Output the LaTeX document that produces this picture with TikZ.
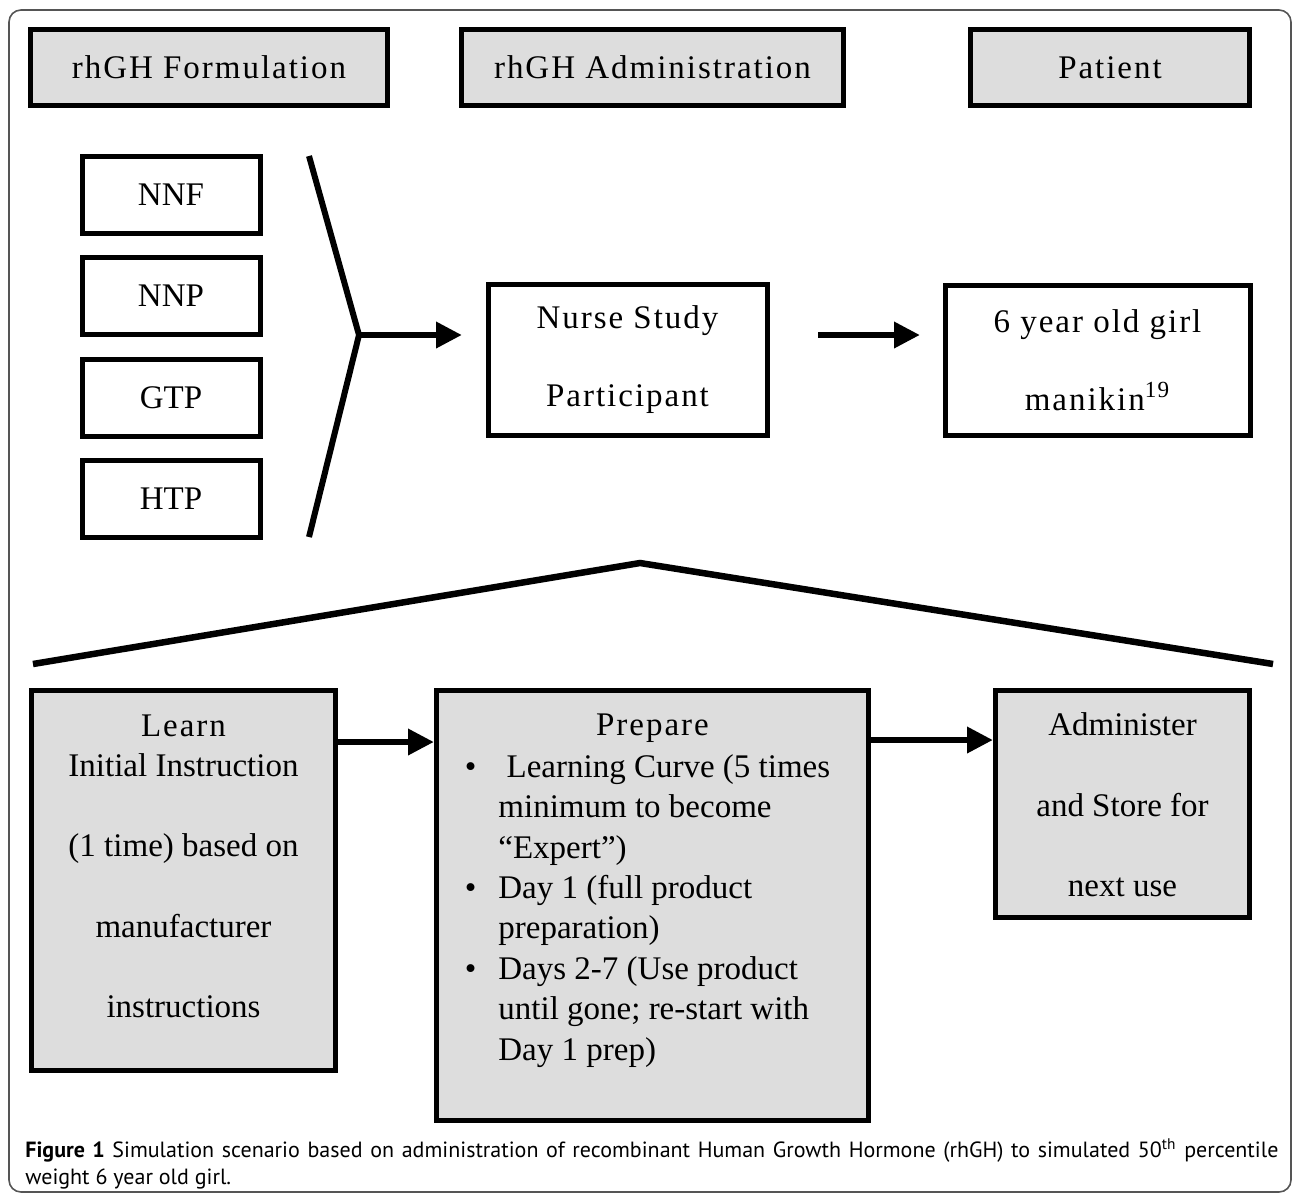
\documentclass[tikz,border=0pt]{standalone}
\usepackage{fontspec}
\setmainfont{Liberation Serif}
\newfontfamily\wide[LetterSpace=6]{Liberation Serif}
\newfontfamily\capfont{PT Sans}
\usetikzlibrary{arrows.meta,positioning}
\definecolor{boxgray}{HTML}{DDDDDD}
\definecolor{framegray}{HTML}{555555}
\begin{document}
\begin{tikzpicture}[x=.5pt, y=-.5pt, line join=miter,
    font=\fontsize{16.5}{20.2}\selectfont,
    head/.style={draw, line width=2.5pt, fill=boxgray, minimum height=38pt, font=\wide\fontsize{16.5}{20.2}\selectfont},
    kind/.style={draw, line width=2.5pt, minimum width=89pt, minimum height=38.5pt},
    plain/.style={draw, line width=2.5pt, align=center, font=\wide\fontsize{16.5}{20.2}\selectfont},
    stage/.style={draw, line width=2.5pt, fill=boxgray},
    txt/.style={inner sep=0pt, align=center},
    fork/.style={line width=3pt},
    link/.style={line width=3.25pt, -{Triangle[length=13pt,width=12.5pt]}}]
    \useasboundingbox (0,0) rectangle (1293,1194);
    \draw[framegray, line width=.8pt, rounded corners=6pt] (9,10) rectangle (1291,1192);
    % column heads
    \node[head, minimum width=178.5pt] (form) at (209,67.5) {rhGH Formulation};
    \node[head, minimum width=191pt] (admin) at (652.5,67.5) {rhGH Administration};
    \node[head, minimum width=139.5pt] (pat) at (1110,67.5) {Patient};
    % formulations
    \node[kind] (nnf) at (171,194.5) {NNF};
    \node[kind] (nnp) at (171,296) {NNP};
    \node[kind] (gtp) at (171,398) {GTP};
    \node[kind] (htp) at (171,499) {HTP};
    \coordinate (vtx) at (359,335);
    \draw[fork] (309,156) -- (vtx) -- (309,537);
    \node[plain, minimum width=139.5pt, minimum height=75.5pt] (nurse) at (627.5,359.5)
        {Nurse Study\\[19pt]Participant};
    \node[plain, minimum width=152.5pt, minimum height=75pt] (girl) at (1097.5,360)
        {6 year old girl\\[19pt]manikin\textsuperscript{19}};
    \draw[link, shorten >=11.75pt] (vtx) -- (vtx -| nurse.west);
    \draw[link, shorten <=24.25pt, shorten >=11.25pt] (vtx -| nurse.east) -- (vtx -| girl.west);
    % zoom into the nurse
    \draw[fork, line width=3.25pt] (33,664) -- (640,563) -- (1273,664);
    \node[stage, minimum width=152pt, minimum height=190pt] (learn) at (183.5,880.5) {};
    \node[stage, minimum width=216pt, minimum height=215pt] (prep) at (652.5,905.5) {};
    \node[stage, minimum width=127pt, minimum height=113.5pt] (store) at (1122.5,804) {};
    \node[txt, below=13pt of learn.north] (learntxt)
        {{\wide Learn}\\Initial Instruction\\[20pt](1 time) based on\\[20pt]manufacturer\\[20pt]instructions};
    \node[txt, below=12.7pt of prep.north, font=\wide\fontsize{16.5}{20.2}\selectfont] (preptitle) {Prepare};
    \node[txt, align=left, anchor=north west] (preplist) at ([xshift=32pt, yshift=-33pt]prep.north west)
        {\llap{\textbullet\hspace{11pt}}\ Learning Curve (5 times\\
        minimum to become\\
        “Expert”)\\
        \llap{\textbullet\hspace{11pt}}Day 1 (full product\\
        preparation)\\
        \llap{\textbullet\hspace{11pt}}Days 2-7 (Use product\\
        until gone; re-start with\\
        Day 1 prep)};
    \node[txt, below=12.25pt of store.north] (storetxt) {Administer\\[20pt]and Store for\\[20pt]next use};
    \draw[link] ([yshift=-27pt]learn.north east) -- ([yshift=-27pt]prep.north west);
    \draw[link] ([yshift=-26pt]prep.north east) -- ([yshift=-26pt]store.north west);
    % caption
    \node[anchor=north west, inner sep=0pt, text width=626.5pt, align=justify,
        font=\capfont\fontsize{11}{13.5}\selectfont] (cap) at (25,1138)
        {\textbf{Figure 1} Simulation scenario based on administration of recombinant Human Growth Hormone (rhGH) to simulated 50\textsuperscript{th} percentile\linebreak weight 6 year old girl.};
\end{tikzpicture}
\end{document}
